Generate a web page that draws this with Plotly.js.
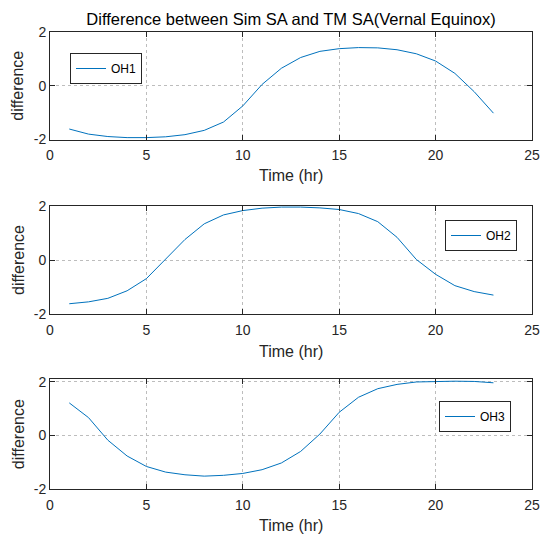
<!DOCTYPE html>
<html>
<head>
<meta charset="utf-8">
<script src="https://cdn.plot.ly/plotly-3.0.1.min.js"></script>
<style>html,body{margin:0;padding:0;background:#fff;}#chart{width:540px;height:535px;}</style>
</head>
<body>
<div id="chart"></div>
<script>
// Hours
const hours = [1,2,3,4,5,6,7,8,9,10,11,12,13,14,15,16,17,18,19,20,21,22,23];
// Differences
const oh1 = [-1.61,-1.80,-1.89,-1.93,-1.93,-1.90,-1.82,-1.66,-1.35,-0.75,0.05,0.65,1.05,1.28,1.38,1.42,1.41,1.34,1.19,0.92,0.46,-0.22,-1.02];
const oh2 = [-1.62,-1.55,-1.42,-1.14,-0.69,0.04,0.76,1.34,1.67,1.83,1.92,1.96,1.96,1.93,1.87,1.72,1.42,0.84,0.02,-0.53,-0.95,-1.17,-1.30];
const oh3 = [1.21,0.66,-0.18,-0.77,-1.16,-1.37,-1.47,-1.52,-1.49,-1.42,-1.28,-1.03,-0.60,0.05,0.86,1.42,1.74,1.90,1.99,2.01,2.02,2.01,1.96];
const names = ['OH1','OH2','OH3'];
const titleText = 'Difference between Sim SA and TM SA(Vernal Equinox)';
const xTitle = 'Time (hr)';
const yTitle = 'difference';
const xTicks = [0,5,10,15,20,25];
const yTicks = [-2,0,2];

const FONT = 'Liberation Sans, Arial, Helvetica, sans-serif';
const LINE = '#0072BD';
const AX = '#262626';

const series = [oh1, oh2, oh3];
const traces = series.map((ys, i) => ({
  x: hours, y: ys, type: 'scatter', mode: 'lines', name: names[i],
  line: {color: LINE, width: 1},
  xaxis: i === 0 ? 'x' : 'x' + (i + 1),
  yaxis: i === 0 ? 'y' : 'y' + (i + 1),
  legend: i === 0 ? 'legend' : 'legend' + (i + 1),
  showlegend: true
}));

const W = 540, H = 535;
const xDom = [50 / W, 532 / W];
const yPix = [[32, 139.5], [206, 314], [379.3, 489]];
const yDoms = yPix.map(p => [1 - p[1] / H, 1 - p[0] / H]);
const yRanges = [[-2, 2], [-2, 2], [-2, 2.09]];
const xTitleY = [176, 351, 525];

function xaxis(i) {
  return {
    domain: xDom, range: [0, 25], tickvals: xTicks, ticktext: xTicks.map(String),
    anchor: i === 0 ? 'y' : 'y' + (i + 1),
    showline: true, linecolor: AX, linewidth: 1, mirror: 'ticks',
    ticks: 'inside', ticklen: 5, tickcolor: AX, tickwidth: 1,
    showgrid: true, gridcolor: '#bdbdbd', griddash: 'dot', gridwidth: 1,
    zeroline: false, tickfont: {family: FONT, size: 14, color: AX},
    ticklabelstandoff: 3,
    fixedrange: true
  };
}
function yaxis(i) {
  return {
    domain: yDoms[i], range: yRanges[i], tickvals: yTicks, ticktext: yTicks.map(String),
    anchor: i === 0 ? 'x' : 'x' + (i + 1),
    showline: true, linecolor: AX, linewidth: 1, mirror: 'ticks',
    ticks: 'inside', ticklen: 5, tickcolor: AX, tickwidth: 1,
    showgrid: true, gridcolor: '#bdbdbd', griddash: 'dot', gridwidth: 1,
    zeroline: false, tickfont: {family: FONT, size: 14, color: AX},
    fixedrange: true
  };
}
function legend(x, yTop) {
  return {
    x: x / W, y: 1 - yTop / H, xanchor: 'left', yanchor: 'top',
    bgcolor: '#ffffff', bordercolor: AX, borderwidth: 1,
    font: {family: FONT, size: 12, color: '#000'},
    tracegroupgap: 0, itemwidth: 30
  };
}

const annotations = [];
for (let i = 0; i < 3; i++) {
  annotations.push({
    text: xTitle, xref: 'paper', yref: 'paper', x: 291 / W, y: 1 - xTitleY[i] / H,
    xanchor: 'center', yanchor: 'middle', showarrow: false,
    font: {family: FONT, size: 16, color: AX}
  });
  annotations.push({
    text: yTitle, xref: 'paper', yref: 'paper', x: 18 / W, y: 1 - (yPix[i][0] + yPix[i][1]) / 2 / H,
    xanchor: 'center', yanchor: 'middle', showarrow: false, textangle: -90,
    font: {family: FONT, size: 16, color: AX}
  });
}

const layout = {
  width: W, height: H,
  margin: {l: 0, r: 0, t: 0, b: 0},
  paper_bgcolor: '#ffffff', plot_bgcolor: '#ffffff',
  font: {family: FONT, color: AX},
  title: {text: titleText, font: {family: FONT, size: 16.5, color: '#000'},
          x: 291 / W, xanchor: 'center', xref: 'paper', y: 1 - 19 / H, yref: 'paper', yanchor: 'middle'},
  xaxis: xaxis(0), yaxis: yaxis(0),
  xaxis2: xaxis(1), yaxis2: yaxis(1),
  xaxis3: xaxis(2), yaxis3: yaxis(2),
  legend: legend(70, 53),
  legend2: legend(445, 220),
  legend3: legend(439, 401),
  annotations: annotations,
  showlegend: true
};

Plotly.newPlot('chart', traces, layout, {displayModeBar: false, staticPlot: true});
</script>
</body>
</html>
